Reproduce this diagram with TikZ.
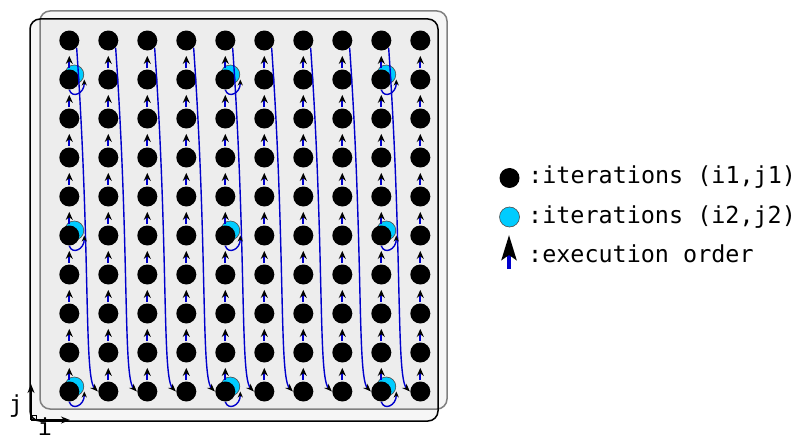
\documentclass[tikz,border=0pt]{standalone}
\usepackage{fontspec}
\setmonofont{DejaVu Sans Mono}
\usepackage{tikz}
\usetikzlibrary{matrix, positioning, backgrounds, arrows.meta}
\definecolor{iterblue}{HTML}{00CCFF}
\definecolor{flowblue}{HTML}{0000CC}

\begin{document}
\begin{tikzpicture}[x=0.5pt, y=-0.5pt,
  dot/.style={circle, fill=black, inner sep=0pt, minimum size=10pt},
  cyandot/.style={circle, fill=iterblue, draw=black!70, line width=0.3pt, inner sep=0pt, minimum size=9.5pt},
  upflow/.style={flowblue, line width=1pt, shorten <=0.5pt, shorten >=2.5pt,
                 -{Stealth[color=black, length=4pt, width=3.5pt]}},
  jumpflow/.style={flowblue, line width=0.7pt, -{Stealth[color=black, length=4pt, width=3pt]}},
  selfflow/.style={flowblue, line width=0.7pt, -{Stealth[color=black, length=3pt, width=2.6pt]}},
  keytext/.style={font=\ttfamily\fontsize{11.7pt}{14pt}\selectfont, inner sep=0pt,
                  text height=8.5pt, text depth=2.5pt},
  axis/.style={line width=0.9pt, -{Stealth[length=4.5pt, width=3.5pt]}}]
\useasboundingbox (0,0) rectangle (796,438);
%
\matrix (m) [matrix of nodes, nodes in empty cells, inner sep=0pt,
         nodes={dot},
         row sep={19.5pt,between origins},
         column sep={19.5pt,between origins}] at (244.8,216)
{
 & & & & & & & & & \\
 & & & & & & & & & \\
 & & & & & & & & & \\
 & & & & & & & & & \\
 & & & & & & & & & \\
 & & & & & & & & & \\
 & & & & & & & & & \\
 & & & & & & & & & \\
 & & & & & & & & & \\
 & & & & & & & & & \\
};
%
\begin{scope}[on background layer]
\fill[black, fill opacity=0.035, rounded corners=5pt] (30,19) rectangle (438,421);
\fill[black, fill opacity=0.035, rounded corners=5pt] (40,11) rectangle (447,409);
\draw[gray, line width=0.75pt, rounded corners=5pt] (40,11) rectangle (447,409);
\draw[black, line width=0.75pt, rounded corners=5pt] (30,19) rectangle (438,421);
\foreach \r in {2,6,10}
  \foreach \c in {1,5,9}
    \node[cyandot] (c-\r-\c) at ([shift={(5,-5)}]m-\r-\c.center) {};
\end{scope}
%
\foreach \c in {1,...,10}
  \foreach \r in {2,...,10} {
    \pgfmathtruncatemacro\q{\r-1}
    \draw[upflow] (m-\r-\c) -- (m-\q-\c);
  }
%
\foreach \c in {1,...,9} {
  \pgfmathtruncatemacro\d{\c+1}
  \draw[jumpflow] (m-1-\c.south east) .. controls +(14,202) and +(-14,-14) .. (m-10-\d.west);
}
%
\foreach \r in {2,6,10}
  \foreach \c in {1,5,9}
    \draw[selfflow] (m-\r-\c.south) .. controls +(3,9) and +(0,14) .. ([xshift=7.5pt]m-\r-\c.center);
%
\coordinate (o) at (31,420);
\coordinate (jend) at (31,384);
\coordinate (iend) at (70,420);
\draw[axis] (o) -- (jend);
\draw[axis] (o) -- (iend);
\draw[line width=0.5pt] (o) rectangle ++(5,-5);
\node[keytext] (jlabel) at (16,406) {j};
\node[keytext] (ilabel) at (45,429) {i};
%
\node[dot] (keyA) at (509.5,178) {};
\node[cyandot, minimum size=10pt] (keyB) at (509.5,217) {};
\coordinate (keyC) at (509,269);
\coordinate (keyD) at (509,235);
\draw[flowblue, line width=2pt, -{Stealth[color=black, length=12.5pt, width=7.5pt, inset=2.5pt]}] (keyC) -- (keyD);
\node[keytext, right=4pt of keyA] (keyAtext) {:iterations (i1,j1)};
\node[keytext, right=4pt of keyB] (keyBtext) {:iterations (i2,j2)};
\node[keytext, below=8.5pt of keyBtext.south west, anchor=north west] (keyCtext) {:execution order};
%
\end{tikzpicture}
\end{document}
